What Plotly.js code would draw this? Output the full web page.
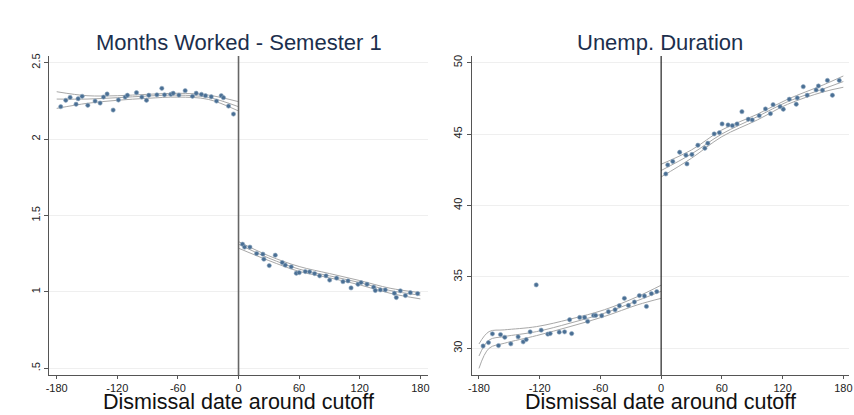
<!DOCTYPE html>
<html>
<head>
<meta charset="utf-8">
<script src="https://cdn.plot.ly/plotly-3.0.1.min.js"></script>
<style>html,body{margin:0;padding:0;background:#fff;}#chart{width:854px;height:415px;}</style>
</head>
<body>
<div id="chart"></div>
<script>
// ---- Panel 1: Months Worked - Semester 1 ----
const mwLeftX = [-176.0,-171.0,-166.7,-160.8,-158.8,-154.8,-149.2,-142.0,-137.0,-133.7,-130.1,-124.1,-118.9,-112.2,-110.0,-101.0,-95.7,-91.1,-88.8,-80.8,-75.9,-73.3,-67.0,-64.7,-59.0,-52.8,-45.6,-41.9,-36.7,-32.7,-27.0,-21.8,-17.1,-14.9,-9.9,-5.0];
const mwLeftY = [2.212,2.254,2.273,2.228,2.264,2.280,2.221,2.249,2.236,2.275,2.295,2.190,2.256,2.275,2.287,2.304,2.275,2.254,2.287,2.290,2.332,2.290,2.293,2.300,2.288,2.317,2.280,2.300,2.293,2.284,2.277,2.249,2.284,2.271,2.216,2.164];
const mwRightX = [4.0,6.0,11.3,17.9,24.1,25.1,30.4,36.4,43.3,46.3,52.2,57.2,60.1,66.1,70.4,75.3,80.3,86.6,90.2,97.1,103.4,108.4,111.4,118.3,121.3,127.2,133.8,135.4,140.4,145.3,154.3,156.2,160.2,165.2,170.1,177.3];
const mwRightY = [1.312,1.293,1.293,1.251,1.247,1.214,1.172,1.240,1.192,1.175,1.164,1.122,1.126,1.133,1.131,1.120,1.105,1.105,1.077,1.090,1.067,1.072,1.026,1.050,1.061,1.050,1.031,1.009,1.013,1.013,0.991,0.963,1.007,0.976,0.995,0.989];
const mwFitLX = [-180,-150,-120,-90,-60,-30,0];
const mwFitLHi = [2.310,2.284,2.284,2.293,2.300,2.288,2.245];
const mwFitLMid = [2.262,2.262,2.271,2.282,2.288,2.273,2.212];
const mwFitLLo = [2.201,2.234,2.254,2.267,2.275,2.260,2.184];
const mwFitRX = [0,30,60,90,120,150,180];
const mwFitRHi = [1.329,1.236,1.166,1.120,1.074,1.024,0.995];
const mwFitRMid = [1.312,1.221,1.149,1.105,1.061,1.009,0.978];
const mwFitRLo = [1.286,1.205,1.134,1.092,1.046,0.991,0.954];
const mwTickVals = [0.5,1,1.5,2,2.5];
const mwTickText = ['.5','1','1.5','2','2.5'];

// ---- Panel 2: Unemp. Duration ----
const udLeftX = [-175.9,-170.6,-166.7,-160.7,-158.7,-154.5,-148.5,-141.3,-136.3,-133.3,-129.4,-123.4,-118.5,-111.9,-109.6,-100.7,-95.4,-90.4,-88.4,-80.5,-75.6,-72.6,-66.7,-64.7,-58.7,-52.1,-45.5,-41.3,-36.3,-32.3,-26.4,-21.5,-16.5,-14.5,-9.6,-4.3];
const udLeftY = [30.16,30.40,31.01,30.19,30.96,30.77,30.31,30.80,30.45,30.61,31.15,34.44,31.27,30.99,31.03,31.13,31.15,32.00,31.03,32.16,32.16,31.88,32.30,32.30,32.28,32.56,32.70,32.98,33.50,33.00,33.24,33.69,33.66,32.93,33.83,33.97];
const udRightX = [4.6,6.5,11.5,18.3,24.5,25.5,30.4,36.3,43.2,46.1,52.4,57.6,60.2,66.1,70.4,75.0,79.8,86.1,90.0,96.9,103.1,108.0,110.6,117.5,120.7,126.6,133.5,134.5,140.4,144.3,153.1,155.4,159.4,164.3,169.2,176.0];
const udRightY = [42.21,42.84,43.08,43.73,43.52,42.91,43.57,44.22,44.01,44.36,45.01,45.10,45.71,45.64,45.59,45.71,46.57,46.04,45.99,46.29,46.76,46.43,47.06,46.92,46.74,47.44,47.09,47.53,48.32,47.72,48.09,48.37,48.07,48.76,47.72,48.76];
const udFitLX = [-180,-170,-155,-123,-90,-56,-23,0];
const udFitLHi = [30.30,31.17,31.29,31.52,32.04,32.70,33.63,34.42];
const udFitLMid = [29.46,30.58,30.82,31.17,31.76,32.46,33.35,33.99];
const udFitLLo = [28.59,30.00,30.35,30.89,31.52,32.23,33.05,33.50];
const udFitRX = [0,30,60,95,125,160,180];
const udFitRHi = [42.89,43.89,45.29,46.39,47.44,48.44,49.07];
const udFitRMid = [42.45,43.61,45.01,46.22,47.27,48.16,48.68];
const udFitRLo = [42.00,43.31,44.82,45.99,47.09,47.95,48.28];
const udTickVals = [30,35,40,45,50];
const udTickText = ['30','35','40','45','50'];

const xTickVals = [-180,-120,-60,0,60,120,180];
const xTickText = ['-180','-120','-60','0','60','120','180'];
const titles = ['Months Worked - Semester 1','Unemp. Duration'];
const xTitle = 'Dismissal date around cutoff';

const fitColor = '#a8a8a8';
const dotColor = '#4a6f94';
const fontFam = 'Liberation Sans, Arial, sans-serif';

function fitTrace(x, y, xa, ya) {
  return {x: x, y: y, xaxis: xa, yaxis: ya, type: 'scatter', mode: 'lines',
    line: {color: fitColor, width: 1, shape: 'spline', smoothing: 1}, hoverinfo: 'skip', showlegend: false};
}
function dotTrace(x, y, xa, ya) {
  return {x: x, y: y, xaxis: xa, yaxis: ya, type: 'scatter', mode: 'markers',
    marker: {color: dotColor, size: 4.3, line: {color: '#8ea7bf', width: 0.6}}, showlegend: false};
}

const traces = [
  fitTrace(mwFitLX, mwFitLHi, 'x', 'y'), fitTrace(mwFitLX, mwFitLMid, 'x', 'y'), fitTrace(mwFitLX, mwFitLLo, 'x', 'y'),
  fitTrace(mwFitRX, mwFitRHi, 'x', 'y'), fitTrace(mwFitRX, mwFitRMid, 'x', 'y'), fitTrace(mwFitRX, mwFitRLo, 'x', 'y'),
  dotTrace(mwLeftX, mwLeftY, 'x', 'y'), dotTrace(mwRightX, mwRightY, 'x', 'y'),
  fitTrace(udFitLX, udFitLHi, 'x2', 'y2'), fitTrace(udFitLX, udFitLMid, 'x2', 'y2'), fitTrace(udFitLX, udFitLLo, 'x2', 'y2'),
  fitTrace(udFitRX, udFitRHi, 'x2', 'y2'), fitTrace(udFitRX, udFitRMid, 'x2', 'y2'), fitTrace(udFitRX, udFitRLo, 'x2', 'y2'),
  dotTrace(udLeftX, udLeftY, 'x2', 'y2'), dotTrace(udRightX, udRightY, 'x2', 'y2')
];

const tickFont = {family: fontFam, size: 11, color: '#222'};
function xAxis(domain, range, anchor) {
  return {domain: domain, range: range, anchor: anchor, tickvals: xTickVals, ticktext: xTickText,
    showgrid: false, zeroline: false, showline: true, linecolor: '#555', linewidth: 1,
    ticks: 'outside', ticklen: 3, tickcolor: '#555', tickfont: tickFont};
}
function yAxis(range, anchor, vals, text) {
  return {domain: [0.0964, 0.8651], range: range, anchor: anchor, tickvals: vals, ticktext: text,
    tickangle: -90, showgrid: true, gridcolor: '#efefef', gridwidth: 1, zeroline: false,
    showline: true, linecolor: '#555', linewidth: 1, ticks: 'outside', ticklen: 4, tickcolor: '#555', tickfont: tickFont};
}

const layout = {
  width: 854, height: 415, margin: {l: 0, r: 0, t: 0, b: 0},
  paper_bgcolor: '#fff', plot_bgcolor: '#fff', showlegend: false,
  xaxis: xAxis([0.0574, 0.5012], [-187.6, 187.6], 'y'),
  yaxis: yAxis([0.456, 2.544], 'x', mwTickVals, mwTickText),
  xaxis2: xAxis([0.5523, 0.9945], [-187.2, 185.9], 'y2'),
  yaxis2: yAxis([28.13, 50.47], 'x2', udTickVals, udTickText),
  shapes: [
    {type: 'line', xref: 'x', yref: 'y domain', x0: 0, x1: 0, y0: 0, y1: 1, line: {color: '#666', width: 1.6}},
    {type: 'line', xref: 'x2', yref: 'y2 domain', x0: 0, x1: 0, y0: 0, y1: 1, line: {color: '#222', width: 1.2}}
  ],
  annotations: [
    {text: titles[0], xref: 'x domain', yref: 'paper', x: 0.5, y: 1 - 42/415, xanchor: 'center', yanchor: 'middle', showarrow: false,
     font: {family: fontFam, size: 22, color: '#1c2f4d'}},
    {text: titles[1], xref: 'x2 domain', yref: 'paper', x: 0.5, y: 1 - 42/415, xanchor: 'center', yanchor: 'middle', showarrow: false,
     font: {family: fontFam, size: 22, color: '#1c2f4d'}},
    {text: xTitle, xref: 'x domain', yref: 'paper', x: 0.5, y: 0, yshift: -1, xanchor: 'center', yanchor: 'bottom', showarrow: false,
     font: {family: fontFam, size: 21.5, color: '#111'}},
    {text: xTitle, xref: 'x2 domain', yref: 'paper', x: 0.5, y: 0, yshift: -1, xanchor: 'center', yanchor: 'bottom', showarrow: false,
     font: {family: fontFam, size: 21.5, color: '#111'}}
  ]
};

Plotly.newPlot('chart', traces, layout, {displayModeBar: false, staticPlot: true});
</script>
</body>
</html>
